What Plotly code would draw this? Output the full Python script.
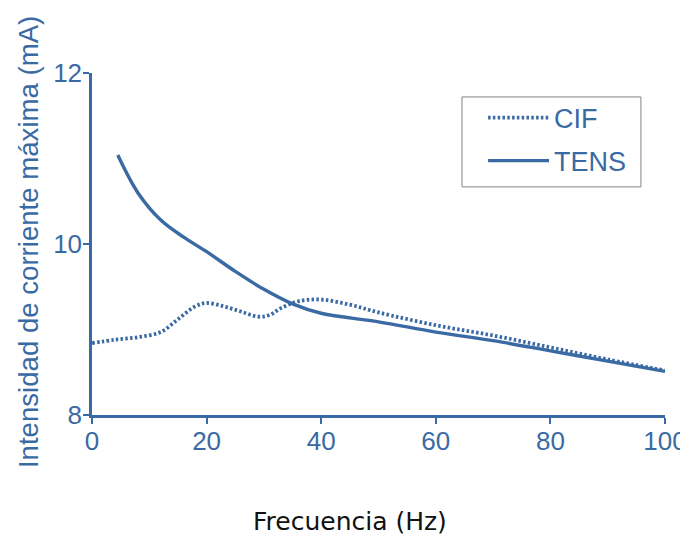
import plotly.graph_objects as go

# Data
freq_cif = [0, 4, 8, 12, 15, 18, 20, 23, 26, 29, 31, 33, 36, 40, 45, 50, 60, 70, 80, 90, 100]
cif = [8.84, 8.88, 8.91, 8.97, 9.12, 9.27, 9.31, 9.27, 9.21, 9.15, 9.17, 9.25, 9.33, 9.35, 9.29, 9.20, 9.05, 8.93, 8.79, 8.65, 8.52]

freq_tens = [4.5, 8, 12, 16, 20, 25, 30, 35, 40, 50, 60, 70, 80, 90, 100]
tens = [11.04, 10.6, 10.28, 10.08, 9.91, 9.68, 9.47, 9.30, 9.19, 9.09, 8.97, 8.87, 8.75, 8.63, 8.51]

x_ticks = [0, 20, 40, 60, 80, 100]
y_ticks = [8, 10, 12]

BLUE = "#3a6aa3"
FONT = "Liberation Sans, Arial, sans-serif"

fig = go.Figure()
fig.add_trace(go.Scatter(x=freq_cif, y=cif, mode="lines", name="CIF", legendgroup="cif",
                         line=dict(color=BLUE, width=3.8, dash="2.5px,2.3px", shape="spline")))
fig.add_trace(go.Scatter(x=freq_tens, y=tens, mode="lines", name="TENS", legendgroup="tens",
                         line=dict(color=BLUE, width=3.4, shape="spline")))

fig.update_layout(
    width=680, height=528,
    margin=dict(l=84, r=23, t=65, b=121),
    paper_bgcolor="white", plot_bgcolor="white",
    font=dict(family=FONT, color=BLUE, size=26),
    showlegend=True,
    legend=dict(x=0.6825, y=0.94, xanchor="left", yanchor="top",
                borderwidth=0, bgcolor="rgba(0,0,0,0)",
                font=dict(size=27, color=BLUE, family=FONT), itemwidth=61,
                tracegroupgap=5),
    xaxis=dict(range=[0, 100], tickvals=x_ticks, ticks="outside", ticklen=6, tickwidth=2,
               tickcolor=BLUE, showline=True, linecolor=BLUE, linewidth=2.5,
               showgrid=False, zeroline=False, automargin=False, ticklabelstandoff=-5,
               tickfont=dict(size=26, color=BLUE, family=FONT)),
    yaxis=dict(range=[8, 12], tickvals=y_ticks, ticks="outside", ticklen=6, tickwidth=2,
               tickcolor=BLUE, showline=True, linecolor=BLUE, linewidth=2.5,
               showgrid=False, zeroline=False, automargin=False, ticklabelstandoff=-4,
               tickfont=dict(size=26, color=BLUE, family=FONT)),
    shapes=[
        dict(type="rect", xref="paper", yref="paper", x0=0.6457, x1=0.958, y0=0.667, y1=0.930,
             line=dict(color="#7d828c", width=1), fillcolor="rgba(0,0,0,0)", layer="above"),
    ],
    annotations=[
        dict(text="Intensidad de corriente máxima (mA)", textangle=-90,
             xref="paper", yref="paper", x=-0.112, y=0.505,
             xanchor="center", yanchor="middle", showarrow=False,
             font=dict(size=27.6, color=BLUE, family=FONT)),
        dict(text="Frecuencia (Hz)", xref="paper", yref="paper",
             x=0.45, y=-0.31, xanchor="center", yanchor="middle", showarrow=False,
             font=dict(size=25, color="#111111", family="DejaVu Sans, sans-serif")),
    ],
)

fig.write_html("out.html")
